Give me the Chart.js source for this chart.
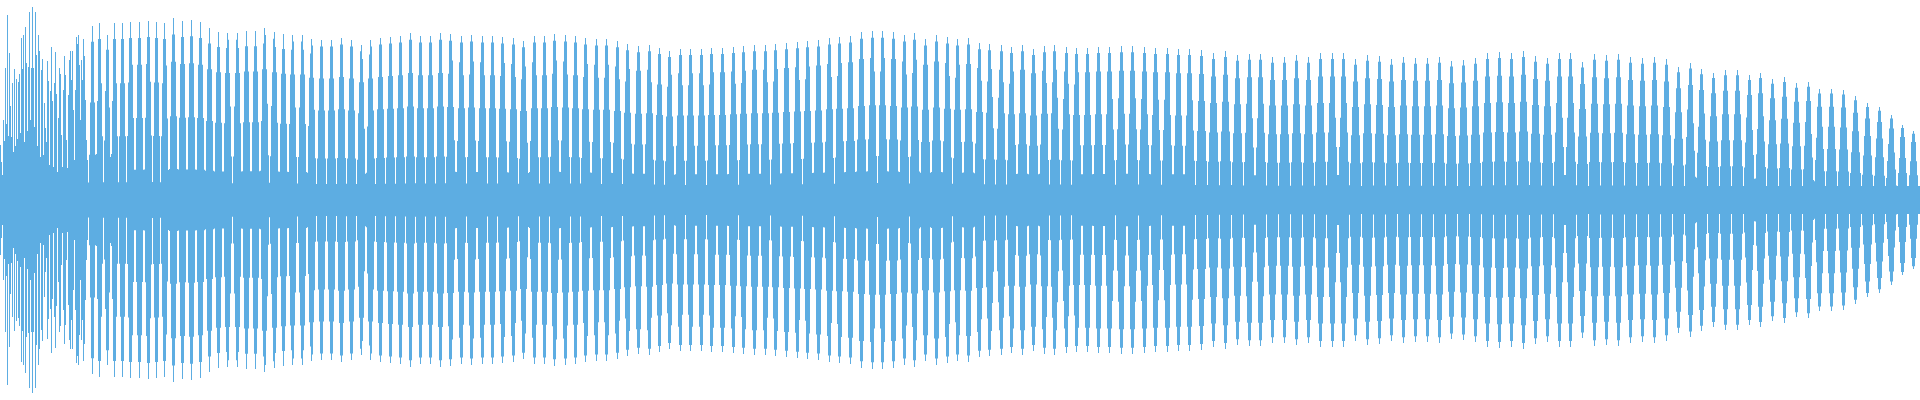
<!DOCTYPE html>
<html>
<head>
<meta charset="utf-8">
<title>Waveform</title>
<script src="https://cdn.jsdelivr.net/npm/chart.js@4.4.1/dist/chart.umd.min.js"></script>
<style>
  html, body { margin: 0; padding: 0; background: #fff; }
  #wrap { width: 1920px; height: 400px; }
</style>
</head>
<body>
<div id="wrap"><canvas id="wave"></canvas></div>
<script>
// ── Data ─────────────────────────────────────────────────────────
const COLUMNS = 1920;

// attack: amplitude of each pixel column, cols 0..87
const attackAmp = [
  .275, .19, .125, .40, .295, .66, .38, .925, .32, .735,
  .47, .315, .585, .24, .655, .27, .605, .305, .59, .63,
  .335, .81, .655, .825, .29, .865, .685, .345, .665, .94,
  .40, .66, .965, .66, .365, .94, .725, .27, .825, .745,
  .215, .65, .705, .225, .485, .36, .29, .695, .595, .175,
  .545, .765, .495, .165, .585, .74, .53, .14, .41, .66,
  .63, .325, .165, .55, .72, .625, .30, .16, .525, .70,
  .745, .60, .745, .45, .20, .55, .815, .78, .825, .675,
  .40, .70, .60, .805, .72, .50, .30, .20
];

// column of each cycle's peak after the attack
const peakCol = [
  92, 99, 107, 114, 122, 130, 139, 148, 156, 164,
  173, 182, 191, 200, 209, 218, 227, 237, 246, 255,
  264, 274, 283, 292, 302, 311, 321, 331, 341, 351,
  361, 370, 380, 390, 400, 410, 420, 430, 440, 450,
  461, 471, 482, 492, 502, 513, 523, 534, 544, 554,
  565, 575, 585, 596, 606, 617, 627, 638, 649, 659,
  669, 680, 690, 701, 711, 722, 733, 743, 754, 765,
  775, 786, 797, 807, 818, 829, 839, 850, 861, 872,
  882, 893, 904, 914, 925, 936, 947, 957, 968, 979,
  989, 1001, 1011, 1022, 1033, 1044, 1054, 1066, 1076, 1087,
  1098, 1109, 1121, 1132, 1144, 1155, 1167, 1178, 1189, 1201,
  1213, 1225, 1237, 1249, 1260, 1272, 1284, 1296, 1308, 1320,
  1332, 1343, 1355, 1367, 1379, 1391, 1403, 1415, 1427, 1439,
  1451, 1463, 1475, 1487, 1499, 1511, 1523, 1535, 1547, 1559,
  1570, 1582, 1594, 1606, 1618, 1630, 1642, 1654, 1666, 1678,
  1690, 1701, 1713, 1725, 1737, 1749, 1760, 1772, 1784, 1796,
  1808, 1819, 1831, 1843, 1855, 1867, 1879, 1891, 1902, 1913
];

// peak amplitude of each cycle (1 = full height)
const peakAmp = [
  .87, .885, .825, .885, .885, .89, .89, .895, .89, .885,
  .91, .895, .90, .89, .86, .84, .835, .835, .845, .845,
  .86, .84, .83, .825, .825, .805, .80, .80, .81, .80,
  .775, .80, .81, .815, .82, .835, .82, .82, .835, .83,
  .82, .825, .82, .82, .815, .81, .795, .82, .82, .83,
  .825, .82, .81, .805, .805, .795, .78, .77, .775, .76,
  .745, .755, .755, .755, .76, .76, .765, .77, .775, .775,
  .78, .785, .79, .795, .80, .81, .815, .82, .84, .845,
  .845, .84, .825, .835, .805, .825, .815, .805, .81, .785,
  .78, .775, .765, .775, .755, .77, .775, .765, .76, .76,
  .765, .765, .77, .77, .765, .76, .76, .755, .755, .75,
  .735, .745, .725, .73, .73, .715, .715, .725, .715, .735,
  .735, .735, .705, .725, .72, .705, .715, .71, .71, .715,
  .695, .70, .71, .735, .74, .735, .745, .72, .71, .735,
  .735, .69, .73, .725, .73, .715, .71, .715, .705, .665,
  .685, .655, .635, .65, .65, .625, .635, .605, .615, .585,
  .59, .555, .555, .55, .52, .485, .465, .425, .375, .345
];

// share of the peak kept at 0..12 24ths of a cycle from it
const cycleShape = [1.0, 0.99, 0.96, 0.91, 0.84, 0.76, 0.66, 0.56, 0.46, 0.36, 0.26, 0.17, 0.1];
// the solid band round the centre line
const bandAmp = 0.07;

// ── Build one floating bar per pixel column ───────────────────────
function shapeAt(amp, dist, gap) {
  const k = Math.min(12, Math.round(dist / gap * 24));
  return amp * cycleShape[k];
}

function columnAmp(c) {
  if (c < attackAmp.length) return attackAmp[c];
  const last = peakCol.length - 1;
  let a;
  if (c < peakCol[0]) {
    a = shapeAt(peakAmp[0], peakCol[0] - c, peakCol[1] - peakCol[0]);
  } else if (c >= peakCol[last]) {
    a = shapeAt(peakAmp[last], c - peakCol[last], peakCol[last] - peakCol[last - 1]);
  } else {
    let i = 0;
    while (peakCol[i + 1] <= c) i++;
    const gap = peakCol[i + 1] - peakCol[i];
    const d = c - peakCol[i];
    a = d * 2 <= gap
      ? shapeAt(peakAmp[i], d, gap)
      : shapeAt(peakAmp[i + 1], gap - d, gap);
  }
  return Math.max(bandAmp, a);
}

const labels = [];
const bars = [];
for (let c = 0; c < COLUMNS; c++) {
  const a = columnAmp(c);
  labels.push(c);
  bars.push([-a, a]);
}

new Chart(document.getElementById('wave'), {
  type: 'bar',
  data: {
    labels,
    datasets: [{
      data: bars,
      backgroundColor: '#5DADE2',
      borderWidth: 0,
      barPercentage: 1,
      categoryPercentage: 1,
      inflateAmount: 0,
    }],
  },
  options: {
    responsive: true,
    maintainAspectRatio: false,
    animation: false,
    events: [],
    layout: { padding: 0 },
    plugins: { legend: { display: false }, tooltip: { enabled: false } },
    scales: {
      x: { display: false },
      y: { display: false, min: -1, max: 1 },
    },
  },
});
</script>
</body>
</html>
